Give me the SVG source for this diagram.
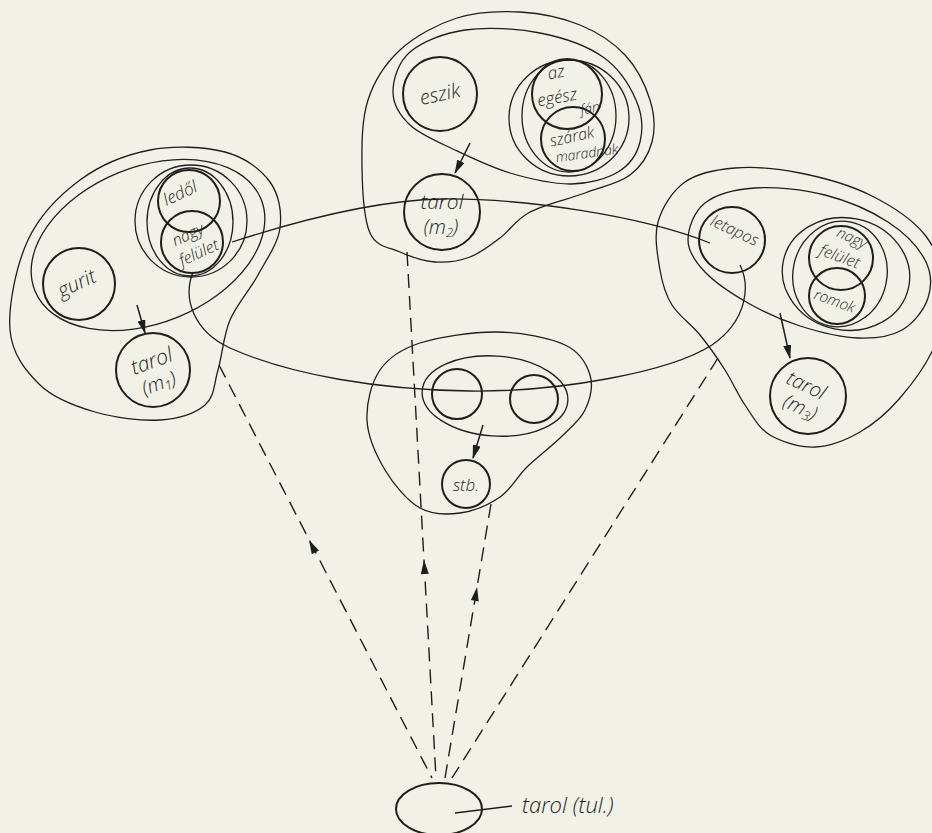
<svg xmlns="http://www.w3.org/2000/svg" width="932" height="833" viewBox="0 0 932 833">
<defs>
<style>
.ln{fill:none;stroke:#1e1e1e;stroke-width:1.3}
.c{fill:none;stroke:#1e1e1e;stroke-width:2}
.d{fill:none;stroke:#1e1e1e;stroke-width:1.4;stroke-dasharray:14 8}
.ar{fill:none;stroke:#1e1e1e;stroke-width:1.5;marker-end:url(#ah)}
.h{fill:#1e1e1e;stroke:none}
text{font-family:"Open Sans","DejaVu Sans",sans-serif;font-style:italic;font-weight:300;fill:#1e1e1e;text-anchor:middle}
</style>
<marker id="ah" viewBox="0 0 14 8" refX="13" refY="4" markerWidth="14" markerHeight="8" markerUnits="userSpaceOnUse" orient="auto"><path d="M0,0 L14,4 L0,8 z" fill="#1e1e1e"/></marker>
</defs>
<rect width="932" height="833" fill="#f2f1e8"/>

<g id="big-ellipse">
<path class="ln" d="M232,242 C300,220 380,200 442,199 C520,198 640,215 710,243"/>
<path class="ln" d="M740,265 C750,285 748,320 712,345 C670,372 560,392 470,391 C380,390 290,375 230,348 C195,332 182,300 193,272"/>
</g>

<g id="group-m1">
<path class="ln" d="M10,330 C8,305.8 16.3,265 28,240 C39.7,215 59.7,195 80,180 C100.3,165 125.8,154.7 150,150 C174.2,145.3 205,146.7 225,152 C245,157.3 260.8,169.3 270,182 C279.2,194.7 282,212.5 280,228 C278,243.5 266.3,259.7 258,275 C249.7,290.3 236.7,304.2 230,320 C223.3,335.8 222.2,355.8 218,370 C213.8,384.2 214.7,396.7 205,405 C195.3,413.3 178.3,418.8 160,420 C141.7,421.2 115,417.8 95,412 C75,406.2 54.2,398.7 40,385 C25.8,371.3 12,354.2 10,330 Z"/>
<ellipse class="ln" cx="148" cy="245" rx="122" ry="78" transform="rotate(-22 148 245)"/>
<circle class="ln" cx="191" cy="221" r="56"/>
<ellipse class="ln" cx="190" cy="222" rx="43" ry="54"/>
</g>
<g id="node-ledol"><circle class="c" cx="189" cy="201" r="31"/><text x="180" y="199" font-size="17" transform="rotate(-25 180 193)">ledől</text></g>
<g id="node-nagy-felulet-1"><circle class="c" cx="192" cy="242" r="31"/><text x="188" y="240" font-size="16" transform="rotate(-25 188 235)">nagy</text><text x="199" y="258" font-size="16" transform="rotate(-25 199 253)">felület</text></g>
<g id="node-gurit"><circle class="c" cx="79" cy="284" r="36"/><text x="77" y="290" font-size="20" transform="rotate(-25 77 284)">gurit</text></g>
<g id="node-tarol-m1"><circle class="c" cx="153" cy="370" r="37"/><text x="152" y="368" font-size="21" transform="rotate(-20 152 362)">tarol</text><text x="159" y="390" font-size="20" transform="rotate(-20 159 384)">(m<tspan font-size="13" dy="3">1</tspan><tspan dy="-3">)</tspan></text></g>

<g id="group-m2">
<path class="ln" d="M370,233 C363.7,218.8 362.3,189.2 362,167 C361.7,144.8 361.7,119.5 368,100 C374.3,80.5 385.2,63.7 400,50 C414.8,36.3 437,24.3 457,18 C477,11.7 499.5,10.8 520,12 C540.5,13.2 562.5,17.8 580,25 C597.5,32.2 613.3,42.5 625,55 C636.7,67.5 645.5,85.5 650,100 C654.5,114.5 655.3,129.5 652,142 C648.7,154.5 641.2,166.5 630,175 C618.8,183.5 601.7,186.8 585,193 C568.3,199.2 544.2,204.5 530,212 C515.8,219.5 510,230.5 500,238 C490,245.5 480.8,253 470,257 C459.2,261 446.7,262.8 435,262 C423.3,261.2 410.8,256.8 400,252 C389.2,247.2 376.3,247.2 370,233 Z"/>
<path class="ln" d="M393,92 C393,79.8 398,62.3 410,52 C422,41.7 443.3,33.2 465,30 C486.7,26.8 517,28.5 540,33 C563,37.5 587,45.8 603,57 C619,68.2 629.8,85.8 636,100 C642.2,114.2 643,130 640,142 C637,154 629.7,165 618,172 C606.3,179 588,184.2 570,184 C552,183.8 529.2,178.7 510,173 C490.8,167.3 471.7,158 455,150 C438.3,142 420.3,134.7 410,125 C399.7,115.3 393,104.2 393,92 Z"/>
<ellipse class="ln" cx="569" cy="118" rx="60" ry="58"/>
<ellipse class="ln" cx="569" cy="116" rx="47" ry="56"/>
</g>
<g id="node-eszik"><circle class="c" cx="440" cy="94" r="37"/><text x="440" y="101" font-size="20" transform="rotate(-12 440 95)">eszik</text></g>
<g id="node-az-egesz-fan"><circle class="c" cx="567" cy="94" r="35"/><text x="556" y="78" font-size="17" transform="rotate(-10 556 72)">az</text><text x="557" y="103" font-size="17" transform="rotate(-10 557 97)">egész</text><text x="590" y="113" font-size="14" transform="rotate(-10 590 108)">fán</text></g>
<g id="node-szarak-maradnak"><circle class="c" cx="573" cy="139" r="32"/><text x="572" y="142" font-size="16" transform="rotate(-12 572 137)">szárak</text><text x="587" y="158" font-size="14" transform="rotate(-8 587 154)">maradnak</text></g>
<g id="node-tarol-m2"><circle class="c" cx="442" cy="212" r="38"/><text x="442" y="209" font-size="21">tarol</text><text x="441" y="234" font-size="20">(m<tspan font-size="13" dy="3">2</tspan><tspan dy="-3">)</tspan></text></g>

<g id="group-m3">
<path class="ln" d="M660,270 C657.7,256.2 653.8,236.7 658,222 C662.2,207.3 672.2,191 685,182 C697.8,173 715.8,169.5 735,168 C754.2,166.5 777.5,168.5 800,173 C822.5,177.5 849.2,184.7 870,195 C890.8,205.3 912.5,219.2 925,235 C937.5,250.8 943.3,271.7 945,290 C946.7,308.3 942.5,327 935,345 C927.5,363 912.5,383.5 900,398 C887.5,412.5 874.2,423.8 860,432 C845.8,440.2 830,446.5 815,447 C800,447.5 781.7,442 770,435 C758.3,428 752.5,415.8 745,405 C737.5,394.2 732.5,381.7 725,370 C717.5,358.3 708.8,345.8 700,335 C691.2,324.2 678.7,315.8 672,305 C665.3,294.2 662.3,283.8 660,270 Z"/>
<path class="ln" d="M688,240 C688,228.5 693.8,211.7 705,203 C716.2,194.3 735,189.3 755,188 C775,186.7 802.8,189.3 825,195 C847.2,200.7 871.3,211.2 888,222 C904.7,232.8 918.3,247.3 925,260 C931.7,272.7 931.8,286.3 928,298 C924.2,309.7 913.7,323.3 902,330 C890.3,336.7 875,338.7 858,338 C841,337.3 818.3,331.8 800,326 C781.7,320.2 763.8,312 748,303 C732.2,294 715,282.5 705,272 C695,261.5 688,251.5 688,240 Z"/>
<ellipse class="ln" cx="846" cy="274" rx="64" ry="56" transform="rotate(12 846 274)"/>
<ellipse class="ln" cx="840" cy="274" rx="47" ry="53" transform="rotate(12 840 274)"/>
</g>
<g id="node-letapos"><circle class="c" cx="732" cy="240" r="33"/><text x="735" y="236" font-size="16" transform="rotate(25 735 230)">letapos</text></g>
<g id="node-nagy-felulet-3"><circle class="c" cx="841" cy="258" r="32"/><text x="852" y="243" font-size="15" transform="rotate(25 852 238)">nagy</text><text x="840" y="262" font-size="16" transform="rotate(20 840 256)">felület</text></g>
<g id="node-romok"><circle class="c" cx="837" cy="296" r="28"/><text x="835" y="306" font-size="15" transform="rotate(20 835 300)">romok</text></g>
<g id="node-tarol-m3"><circle class="c" cx="808" cy="396" r="38"/><text x="806" y="392" font-size="20" transform="rotate(25 806 386)">tarol</text><text x="800" y="414" font-size="20" transform="rotate(25 800 408)">(m<tspan font-size="13" dy="3">3</tspan><tspan dy="-3">)</tspan></text></g>

<g id="group-stb">
<path class="ln" d="M367,420 C366.2,403.3 371.2,382.8 380,370 C388.8,357.2 400.5,349.3 420,343 C439.5,336.7 472.8,331.7 497,332 C521.2,332.3 549.5,337.8 565,345 C580.5,352.2 586.7,364.2 590,375 C593.3,385.8 590,399.5 585,410 C580,420.5 569.7,428.5 560,438 C550.3,447.5 537,457.2 527,467 C517,476.8 511.2,489.3 500,497 C488.8,504.7 473.3,511.2 460,513 C446.7,514.8 432.5,515.2 420,508 C407.5,500.8 393.8,484.7 385,470 C376.2,455.3 367.8,436.7 367,420 Z"/>
<ellipse class="ln" cx="495" cy="396" rx="73" ry="40" transform="rotate(4 495 396)"/>
</g>
<g id="node-stb-a"><circle class="c" cx="457" cy="394" r="25"/></g>
<g id="node-stb-b"><circle class="c" cx="534" cy="399" r="24"/></g>
<g id="node-stb"><circle class="c" cx="466" cy="484" r="24"/><text x="466" y="491" font-size="17">stb.</text></g>

<g id="node-tarol-tul">
<ellipse class="c" cx="439" cy="809" rx="43" ry="26"/>
<line class="ln" x1="455" y1="813" x2="512" y2="806"/>
<text x="522" y="813" font-size="22" style="text-anchor:start">tarol (tul.)</text>
</g>

<g id="connectors">
<line class="ar" x1="137" y1="305" x2="145" y2="333"/>
<line class="ar" x1="470" y1="143" x2="455" y2="173"/>
<line class="ar" x1="780" y1="313" x2="790" y2="358"/>
<line class="ar" x1="483" y1="425" x2="473" y2="458"/>
<line class="d" x1="219" y1="365" x2="432" y2="778"/>
<line class="d" x1="407" y1="252" x2="436" y2="778"/>
<line class="d" x1="491" y1="504" x2="445" y2="778"/>
<line class="d" x1="718" y1="358" x2="452" y2="778"/>
<polygon class="h" points="309,540 319,550.6 311.8,554.2"/>
<polygon class="h" points="424,560 428.8,573.8 420.8,574.2"/>
<polygon class="h" points="477.1,587 478.7,601.5 470.9,600.1"/>
</g>
</svg>
